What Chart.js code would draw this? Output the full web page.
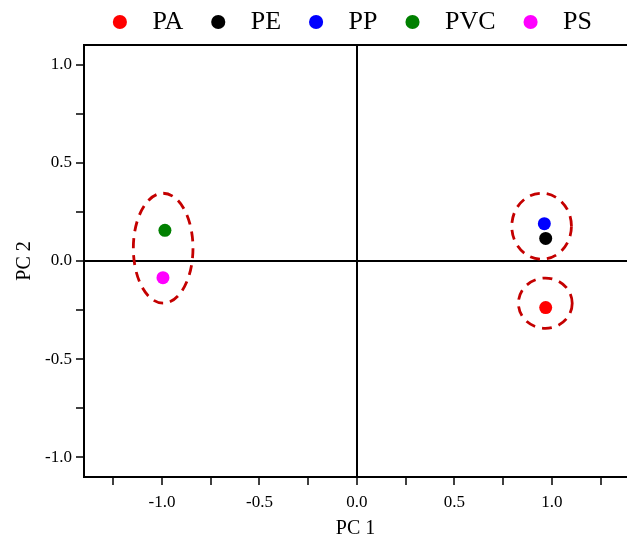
<!DOCTYPE html>
<html>
<head>
<meta charset="utf-8">
<script src="https://cdn.jsdelivr.net/npm/chart.js@4"></script>
<style>
  html, body { margin: 0; padding: 0; background: #fff; }
  #wrap { width: 627px; height: 542px; }
</style>
</head>
<body>
<div id="wrap"><canvas id="pcaChart"></canvas></div>
<script>
// data
const seriesNames = ["PA", "PE", "PP", "PVC", "PS"];
const seriesColors = ["#ff0000", "#000000", "#0000ff", "#008000", "#ff00ff"];
const pc1Values = [0.968, 0.968, 0.961, -0.985, -0.995];
const pc2Values = [-0.237, 0.115, 0.19, 0.156, -0.085];

// dashed group ellipses (centre and radii in data units)
const ellipseCx = [-0.994, 0.947, 0.966];
const ellipseCy = [0.065, 0.177, -0.215];
const ellipseRx = [0.153, 0.153, 0.138];
const ellipseRy = [0.28, 0.168, 0.128];

const xTicks = [-1.25, -1.0, -0.75, -0.5, -0.25, 0, 0.25, 0.5, 0.75, 1.0, 1.25];
const yTicks = [-1.0, -0.75, -0.5, -0.25, 0, 0.25, 0.5, 0.75, 1.0];

Chart.defaults.font.family = "'Liberation Serif', 'Times New Roman', serif";
Chart.defaults.color = "#000";

const isMajor = v => Math.abs(v * 2 - Math.round(v * 2)) < 1e-9;
const zeroLine = c => (c.tick && c.tick.value === 0) ? "#000" : "rgba(0,0,0,0)";

const ellipsePlugin = {
  id: "groupEllipses",
  beforeDatasetsDraw(chart) {
    const { ctx, scales: { x, y } } = chart;
    ctx.save();
    ctx.strokeStyle = "#c40000";
    ctx.lineWidth = 2.8;
    ctx.setLineDash([10, 7]);
    for (let i = 0; i < ellipseCx.length; i++) {
      const cx = x.getPixelForValue(ellipseCx[i]);
      const cy = y.getPixelForValue(ellipseCy[i]);
      const rx = Math.abs(x.getPixelForValue(ellipseCx[i] + ellipseRx[i]) - cx);
      const ry = Math.abs(y.getPixelForValue(ellipseCy[i] + ellipseRy[i]) - cy);
      ctx.beginPath();
      ctx.ellipse(cx, cy, rx, ry, 0, 0, Math.PI * 2);
      ctx.stroke();
    }
    ctx.restore();
  }
};

// fixed legend band height so the plot starts where it does in the picture
const legendHeightPlugin = {
  id: "legendHeight",
  beforeLayout(chart) {
    const lg = chart.legend;
    if (lg && !lg._fixed) {
      const fit = lg.fit.bind(lg);
      lg.fit = function () { fit(); this.height = 45; };
      lg._fixed = true;
    }
  }
};

const datasets = seriesNames.map((name, i) => ({
  label: name,
  data: [{ x: pc1Values[i], y: pc2Values[i] }],
  backgroundColor: seriesColors[i],
  borderColor: seriesColors[i],
  borderWidth: 0,
  pointRadius: 6.5,
  pointHoverRadius: 6.5,
  pointStyle: "circle"
}));

new Chart(document.getElementById("pcaChart"), {
  type: "scatter",
  data: { datasets },
  plugins: [ellipsePlugin, legendHeightPlugin],
  options: {
    responsive: true,
    maintainAspectRatio: false,
    animation: false,
    layout: { padding: 0, autoPadding: false },
    plugins: {
      tooltip: { enabled: false },
      legend: {
        position: "top",
        align: "end",
        labels: {
          usePointStyle: true,
          boxWidth: 26,
          boxHeight: 10,
          padding: 9,
          font: { size: 26 },
          color: "#000",
          generateLabels(chart) {
            const last = chart.data.datasets.length - 1;
            return chart.data.datasets.map((ds, i) => ({
              text: " " + ds.label + (i === last ? "    " : "  "),
              fillStyle: ds.backgroundColor,
              strokeStyle: ds.backgroundColor,
              lineWidth: 0,
              pointStyle: "circle",
              hidden: false,
              datasetIndex: i
            }));
          }
        }
      }
    },
    scales: {
      x: {
        type: "linear",
        position: "bottom",
        min: -1.4,
        max: 1.385,
        afterBuildTicks: s => { s.ticks = xTicks.map(v => ({ value: v })); },
        afterFit: s => { s.height = 65; s.paddingLeft = 0; s.paddingRight = 0; },
        ticks: {
          autoSkip: false,
          maxRotation: 0,
          padding: 7,
          font: { size: 17 },
          callback: v => isMajor(v) ? v.toFixed(1) : ""
        },
        grid: { color: zeroLine, lineWidth: 2, tickColor: "#000", tickWidth: 1.5, tickLength: 8 },
        border: { display: true, color: "#000", width: 2 },
        title: { display: true, text: "PC 1", font: { size: 20 }, padding: { top: 0, bottom: 1 } }
      },
      xTop: {
        type: "linear",
        position: "top",
        min: -1.4,
        max: 1.385,
        afterFit: s => { s.height = 0; s.paddingLeft = 0; s.paddingRight = 0; },
        ticks: { display: false },
        grid: { display: true, drawOnChartArea: false, drawTicks: false },
        border: { display: true, color: "#000", width: 2 }
      },
      y: {
        type: "linear",
        position: "left",
        min: -1.1,
        max: 1.1,
        afterBuildTicks: s => { s.ticks = yTicks.map(v => ({ value: v })); },
        afterFit: s => { s.width = 84; s.paddingTop = 0; s.paddingBottom = 0; },
        ticks: {
          autoSkip: false,
          padding: 4,
          font: { size: 17 },
          callback: v => isMajor(v) ? v.toFixed(1) : ""
        },
        grid: { color: zeroLine, lineWidth: 2, tickColor: "#000", tickWidth: 1.5, tickLength: 8 },
        border: { display: true, color: "#000", width: 2 },
        title: { display: true, text: "PC 2", font: { size: 20 }, padding: { top: 13, bottom: 0 } }
      }
    }
  }
});
</script>
</body>
</html>
